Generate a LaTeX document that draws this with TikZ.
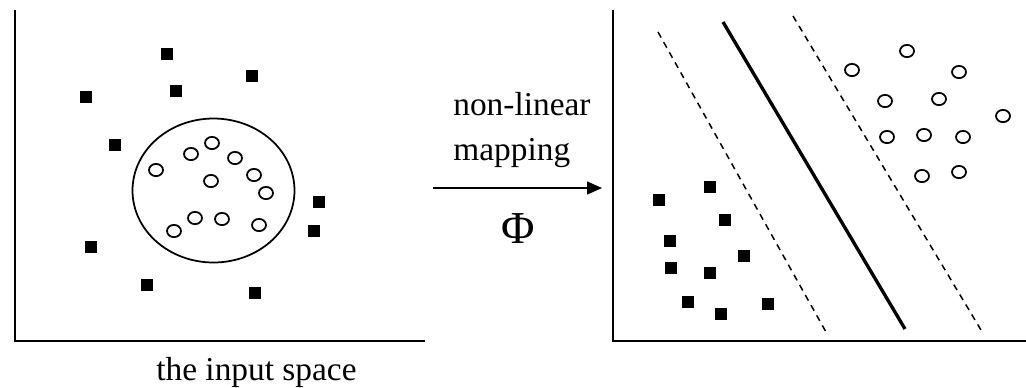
\documentclass[tikz,border=0pt]{standalone}
\usepackage{fontspec}
\setmainfont{Liberation Serif}
\usepackage{tikz}
\usetikzlibrary{
	shapes.geometric,
	arrows.meta
}

\begin{document}
\begin{tikzpicture}[x=0.02cm,y=-0.02cm,
	sq/.style={rectangle,fill=black,inner sep=0pt,minimum size=0.245cm},
	pt/.style={ellipse,draw,line width=1pt,inner sep=0pt,minimum width=0.28cm,minimum height=0.245cm},
	lbl/.style={font=\fontsize{19}{23}\selectfont,inner sep=0pt},
	ax/.style={line width=1.5pt},
	margin/.style={line width=0.85pt,dash pattern=on 3.6pt off 3pt}]
	\useasboundingbox (0,0) rectangle (1026,387);

	% axes
	\coordinate (inTop)  at (15,10);
	\coordinate (inO)    at (15,341);
	\coordinate (inEnd)  at (425,341);
	\coordinate (ftTop)  at (613,10);
	\coordinate (ftO)    at (613,341);
	\coordinate (ftEnd)  at (1026,341);
	\draw[ax] (inTop) -- (inO) -- (inEnd);
	\draw[ax] (ftTop) -- (ftO) -- (ftEnd);

	% the input space
	\draw
		node [ellipse,draw,line width=1pt,minimum width=3.24cm,minimum height=2.88cm] (ring) at (213.5,190.5) {}

		node [sq] (a1)  at (167,54)  {}
		node [sq] (a2)  at (252,76)  {}
		node [sq] (a3)  at (86,97)   {}
		node [sq] (a4)  at (176,91)  {}
		node [sq] (a5)  at (115,145) {}
		node [sq] (a6)  at (319,202) {}
		node [sq] (a7)  at (314,231) {}
		node [sq] (a8)  at (91,247)  {}
		node [sq] (a9)  at (147,285) {}
		node [sq] (a10) at (255,293) {}

		node [pt] (b1)  at (156,170) {}
		node [pt] (b2)  at (191,154) {}
		node [pt] (b3)  at (212,143) {}
		node [pt] (b4)  at (235,158) {}
		node [pt] (b5)  at (211,181) {}
		node [pt] (b6)  at (254,175) {}
		node [pt] (b7)  at (266,193) {}
		node [pt] (b8)  at (195,218) {}
		node [pt] (b9)  at (222,219) {}
		node [pt] (b10) at (259,225) {}
		node [pt] (b11) at (174,231) {}

		node [lbl,anchor=base west] (inLbl) at (156,380) {the input space}
	;

	% mapping
	\coordinate (mapFrom) at (433,188);
	\coordinate (mapTo)   at (602,188);
	\draw[line width=0.9pt,-{Triangle[length=0.3cm,width=0.26cm]}] (mapFrom) -- (mapTo);
	\draw
		node [lbl,anchor=base west] (nl)  at (453,115) {non-linear}
		node [lbl,anchor=base west] (mp)  at (453,160) {mapping}
		node [lbl,font=\fontsize{26}{30}\selectfont,anchor=base] (phi) at (518,243) {Φ}
	;

	% the feature space
	\draw[line width=1.9pt] (723,22) -- (905,329);
	\draw[margin] (658,32) -- (826,332);
	\draw[margin] (793,16) -- (981,330);

	\draw
		node [sq] (c1)  at (710,187) {}
		node [sq] (c2)  at (659,200) {}
		node [sq] (c3)  at (725,220) {}
		node [sq] (c4)  at (670,241) {}
		node [sq] (c5)  at (744,256) {}
		node [sq] (c6)  at (671,268) {}
		node [sq] (c7)  at (710,273) {}
		node [sq] (c8)  at (688,302) {}
		node [sq] (c9)  at (768,304) {}
		node [sq] (c10) at (721,314) {}

		node [pt] (d1)  at (852,70)  {}
		node [pt] (d2)  at (907,51)  {}
		node [pt] (d3)  at (959,72)  {}
		node [pt] (d4)  at (885,101) {}
		node [pt] (d5)  at (939,99)  {}
		node [pt] (d6)  at (1003,116) {}
		node [pt] (d7)  at (887,137) {}
		node [pt] (d8)  at (924,135) {}
		node [pt] (d9)  at (963,137) {}
		node [pt] (d10) at (922,176) {}
		node [pt] (d11) at (959,172) {}
	;
\end{tikzpicture}
\end{document}
